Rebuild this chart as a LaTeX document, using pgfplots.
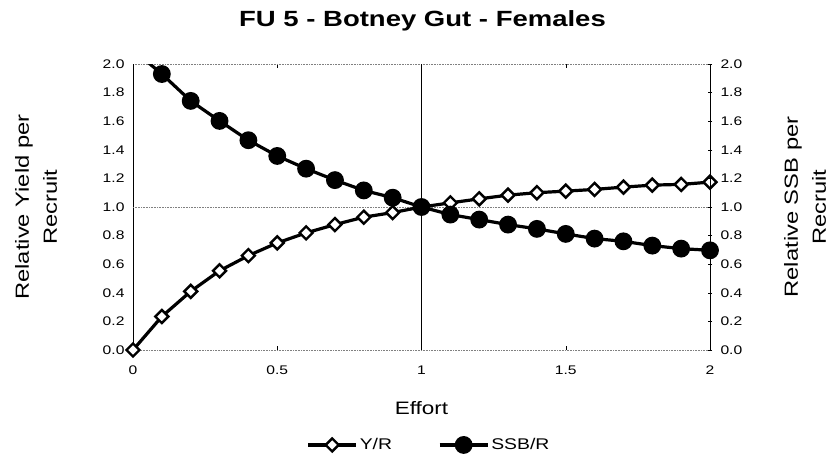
\documentclass[border=0pt]{standalone}
\usepackage{pgfplots}
\pgfplotsset{compat=1.18}
\usepackage{fontspec}
\setmainfont[FakeStretch=1.25]{Liberation Sans}

% relative yield and SSB per recruit vs effort
\pgfplotstableread{
effort yr ssbr
0.0 0.000 2.100
0.1 0.234 1.930
0.2 0.410 1.742
0.3 0.554 1.602
0.4 0.660 1.467
0.5 0.749 1.357
0.6 0.819 1.268
0.7 0.877 1.188
0.8 0.929 1.116
0.9 0.961 1.065
1.0 1.000 1.000
1.1 1.029 0.947
1.2 1.057 0.912
1.3 1.083 0.877
1.4 1.100 0.847
1.5 1.111 0.812
1.6 1.123 0.779
1.7 1.139 0.760
1.8 1.153 0.730
1.9 1.158 0.709
2.0 1.174 0.697
}\datatable

\begin{document}
\begin{tikzpicture}
\path[use as bounding box] (-133pt,-114pt) rectangle (700pt,350pt);
\pgfplotsset{
  every axis/.append style={
    scale only axis, width=577pt, height=286pt,
    at={(0pt,0pt)}, anchor=south west,
    xmin=0, xmax=2, ymin=0, ymax=2,
    /pgf/number format/assume math mode=true,
    ticklabel style={font=\fontsize{12.5}{12.5}\selectfont},
    ytick={0,0.2,...,2.0},
    yticklabel style={/pgf/number format/fixed, /pgf/number format/fixed zerofill, /pgf/number format/precision=1},
    xtick={0,0.5,1,1.5,2},
    xticklabels={0,0.5,1,1.5,2},
    major tick length=4pt,
  },
  longleg/.style={legend image code/.code={
    \draw[mark repeat=2, mark phase=2, ##1] plot coordinates {(0pt,0pt) (24pt,0pt) (48pt,0pt)};}},
}
\begin{axis}[
  separate axis lines,
  axis x line*=box,
  axis y line*=left,
  x axis line style={gray, densely dotted, line width=0.6pt},
  y axis line style={black, line width=0.8pt},
  ytick style={draw=none},
  xtick style={black, line width=0.5pt},
  tick align=inside,
  xticklabel style={yshift=-12pt},
  yticklabel style={xshift=-5pt},
  clip=true,
  legend columns=2,
  legend style={draw=none, at={(0.513,-0.332)}, anchor=center,
    font=\fontsize{15.5}{15.5}\selectfont,
    /tikz/every even column/.append style={column sep=44pt}},
]
\draw[black, line width=0.6pt] (axis cs:1,0) -- (axis cs:1,2);
\draw[gray, densely dotted, line width=0.6pt] (axis cs:0,1) -- (axis cs:2,1);
\addplot[black, line width=3.2pt, mark=square*, mark size=4.6pt, longleg,
  mark options={fill=white, line width=2.4pt, rotate=45}] table[x=effort, y=yr] {\datatable};
\addlegendentry{Y/R}
\addplot[black, line width=3.2pt, mark=*, mark size=7.3pt, longleg,
  mark options={fill=black}] table[x=effort, y=ssbr] {\datatable};
\addlegendentry{SSB/R}
\end{axis}
\begin{axis}[
  axis x line=none,
  axis y line*=right,
  y axis line style={black, line width=0.8pt},
  ytick style={black, line width=0.5pt},
  tick align=center,
  yticklabel style={xshift=5pt},
]
\addplot[draw=none] coordinates {(0,0)};
\end{axis}
\node[font=\bfseries\fontsize{22}{22}\selectfont] at (289.5pt,329pt) {FU 5 - Botney Gut - Females};
\node[font=\fontsize{18}{18}\selectfont] at (288.5pt,-58pt) {Effort};
\node[rotate=90, align=center, font=\fontsize{19}{28}\selectfont] at (-97pt,143pt) {Relative Yield per\\Recruit};
\node[rotate=90, align=center, font=\fontsize{19}{28}\selectfont] at (672pt,143pt) {Relative SSB per\\Recruit};
\end{tikzpicture}
\end{document}
